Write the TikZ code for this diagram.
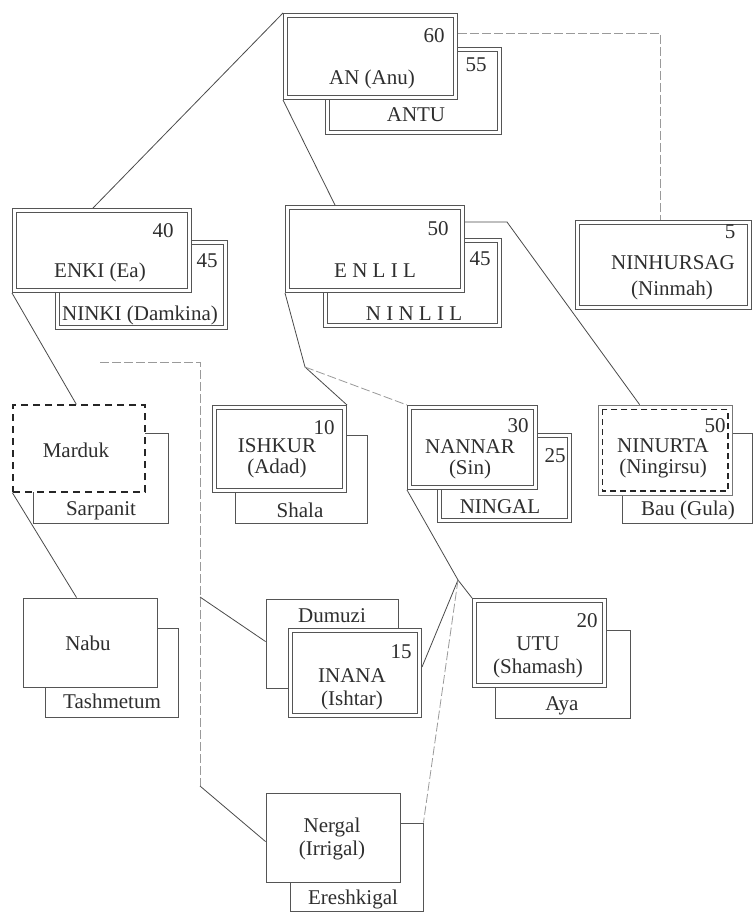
\documentclass[tikz,border=0pt]{standalone}
\usepackage{fontspec}
\setmainfont{Liberation Serif}
\usetikzlibrary{calc}
\pgfdeclarelayer{bg}
\pgfsetlayers{bg,main}
\definecolor{boxc}{HTML}{555555}
\definecolor{txtc}{HTML}{2E2E2E}
\definecolor{linec}{HTML}{4A4A4A}
\definecolor{dlinec}{HTML}{9A9A9A}
\newcommand{\godfont}{\fontsize{21}{23}\selectfont}
% double-lined box: name, x1, y1, x2, y2 (outer edges)
\newcommand{\dgbox}[5]{\node[dbox, minimum width={#4-#2-4.8}, minimum height={#5-#3-4.8}] (#1) at ({(#2+#4)/2},{(#3+#5)/2}) {};}
% single-lined box: style, name, x1, y1, x2, y2
\newcommand{\sgbox}[6]{\node[#1, minimum width={#5-#3}, minimum height={#6-#4}] (#2) at ({(#3+#5)/2},{(#4+#6)/2}) {};}
\tikzset{
  dbox/.style={draw=boxc, line width=0.8pt, double=white, double distance=3.2pt, fill=white, inner sep=0pt, outer sep=2.4pt},
  sbox/.style={draw=boxc, line width=0.9pt, fill=white, inner sep=0pt, outer sep=0.45pt},
  mdbox/.style={draw=black!85, line width=1.3pt, dash pattern=on 7pt off 5pt, fill=white, inner sep=0pt, outer sep=0.65pt},
  ninbox/.style={draw=boxc!80, line width=0.8pt, fill=white, inner sep=0pt, outer sep=0.4pt},
  dashin/.style={draw=black!85, line width=1.2pt, dash pattern=on 6pt off 4pt},
  lab/.style={font=\godfont, text=txtc, inner sep=0pt, text height=13pt, text depth=3pt},
  link/.style={draw=linec, line width=0.8pt},
  dlink/.style={draw=dlinec, line width=0.8pt, dash pattern=on 9pt off 3pt},
}
\begin{document}
\begin{tikzpicture}[x=1pt, y=-1pt]
\useasboundingbox (0,0) rectangle (755,912);

% ---- boxes: consort first, then main god on top
\dgbox{antu}{325}{47}{502}{135}
\dgbox{an}{283}{13}{458}{100}

\dgbox{ninki}{55}{240}{228}{330}
\dgbox{enki}{12}{208}{192}{293}

\dgbox{ninlil}{323}{238}{502}{328}
\dgbox{enlil}{285}{205}{465}{293}

\dgbox{ninh}{575}{220}{752}{310}

\sgbox{sbox}{sarpanit}{33}{433}{168}{523}
\sgbox{mdbox}{marduk}{13}{405}{145}{492}

\sgbox{sbox}{shala}{235}{435}{367}{523}
\dgbox{ishkur}{212}{405}{347}{493}

\dgbox{ningal}{437}{433}{572}{523}
\dgbox{nannar}{407}{405}{538}{490}

\sgbox{sbox}{bau}{622}{433}{752}{523}
\sgbox{ninbox}{ninurta}{598}{405}{732}{495}
\draw[dashin] ($(ninurta.north west)+(4.5,4.5)$) rectangle ($(ninurta.south east)+(-4.5,-4.5)$);

\sgbox{sbox}{tash}{45}{628}{178}{717}
\sgbox{sbox}{nabu}{23}{598}{157}{687}

\sgbox{sbox}{dumuzi}{266}{599}{398}{688}
\dgbox{inana}{288}{628}{422}{718}

\sgbox{sbox}{aya}{495}{630}{630}{718}
\dgbox{utu}{472}{598}{607}{688}

\sgbox{sbox}{eresh}{290}{823}{423}{911}
\sgbox{sbox}{nergal}{266}{793}{400}{882}

% ---- labels
\node[lab] (an-n) at (434,38) {60};
\node[lab] (an-t) at (372,80) {AN (Anu)};
\node[lab] (antu-n) at (476,67) {55};
\node[lab] (antu-t) at (416,117) {ANTU};

\node[lab] (enki-n) at (163,232) {40};
\node[lab] (enki-t) at (100,272) {ENKI (Ea)};
\node[lab] (ninki-n) at (207,262) {45};
\node[lab] (ninki-t) at (140,315) {NINKI (Damkina)};

\node[lab] (enlil-n) at (438,230) {50};
\node[lab] (enlil-t) at (375,272) {E N L I L};
\node[lab] (ninlil-n) at (480,260) {45};
\node[lab] (ninlil-t) at (414,315) {N I N L I L};

\node[lab] (ninh-n) at (730,233) {5};
\node[lab] (ninh-t) at (673,264) {NINHURSAG};
\node[lab] (ninh-s) at (672,290) {(Ninmah)};

\node[lab] (marduk-t) at (76,452) {Marduk};
\node[lab] (sarpanit-t) at (101,510) {Sarpanit};

\node[lab] (ishkur-n) at (324,429) {10};
\node[lab] (ishkur-t) at (277,447) {ISHKUR};
\node[lab] (ishkur-s) at (277,468) {(Adad)};
\node[lab] (shala-t) at (300,512) {Shala};

\node[lab] (nannar-n) at (518,427) {30};
\node[lab] (nannar-t) at (470,448) {NANNAR};
\node[lab] (nannar-s) at (470,469) {(Sin)};
\node[lab] (ningal-n) at (555,457) {25};
\node[lab] (ningal-t) at (500,508) {NINGAL};

\node[lab] (ninurta-n) at (715,427) {50};
\node[lab] (ninurta-t) at (663,447) {NINURTA};
\node[lab] (ninurta-s) at (663,468) {(Ningirsu)};
\node[lab] (bau-t) at (688,510) {Bau (Gula)};

\node[lab] (nabu-t) at (88,645) {Nabu};
\node[lab] (tash-t) at (112,703) {Tashmetum};

\node[lab] (dumuzi-t) at (332,617) {Dumuzi};
\node[lab] (inana-n) at (401,653) {15};
\node[lab] (inana-t) at (352,677) {INANA};
\node[lab] (inana-s) at (352,700) {(Ishtar)};

\node[lab] (utu-n) at (587,622) {20};
\node[lab] (utu-t) at (538,645) {UTU};
\node[lab] (utu-s) at (538,668) {(Shamash)};
\node[lab] (aya-t) at (562,705) {Aya};

\node[lab] (nergal-t) at (332,827) {Nergal};
\node[lab] (nergal-s) at (332,850) {(Irrigal)};
\node[lab] (eresh-t) at (353,899) {Ereshkigal};

% ---- connectors (behind the boxes)
\coordinate (b1) at (305,367);
\coordinate (b2) at (458,580);
\coordinate (e0) at (100,362);
\coordinate (e1) at (200,362);
\coordinate (e2) at (200,597);
\coordinate (e3) at (200,786);
\begin{pgfonlayer}{bg}
\fill[white] (0,0) rectangle (755,912);
\draw[link] (an.north west) -- ($(enki.north)+(-9,0)$);
\draw[link] (an.south west) -- ($(enlil.north west)+(50,0)$);
\draw[dlink] ($(an.north east)+(0,20)$) -| ($(ninh.north west)+(85,0)$);
\draw[link] (enki.south west) -- ($(marduk.north west)+(64,0)$);
\draw[link] (marduk.south west) -- ($(nabu.north west)+(54,0)$);
\draw[link] ($(enlil.north east)+(0,17)$) -- ++(42,0) -- ($(ninurta.north west)+(42,0)$);
\draw[link] (enlil.south west) -- (b1) -- (ishkur.north east);
\draw[dlink] (b1) -- (nannar.north west);
\draw[link] (nannar.south west) -- (b2) -- (utu.north west);
\draw[link] (b2) -- ($(inana.north east)+(0,39)$);
\draw[dlink] (b2) -- (eresh.north east);
\draw[dlink] (e0) -- (e1) -- (e3);
\draw[link] (e3) -- ($(nergal.north west)+(0,49)$);
\draw[link] (e2) -- ($(dumuzi.north west)+(0,43)$);
\end{pgfonlayer}
\end{tikzpicture}
\end{document}
